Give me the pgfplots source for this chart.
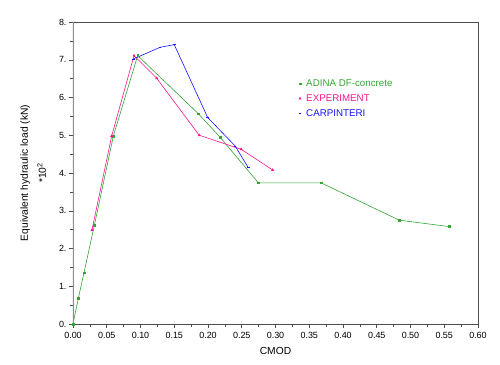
\documentclass[border=0pt]{standalone}
\usepackage{pgfplots}
\pgfplotsset{compat=1.18}
\usepackage{fontspec}
\setmainfont{Liberation Sans}
\definecolor{adgreen}{RGB}{50,165,50}
\definecolor{expink}{RGB}{255,20,140}
\definecolor{carblue}{RGB}{20,20,255}
\begin{document}
\begin{tikzpicture}
\useasboundingbox (-73bp,-41bp) rectangle (427bp,324bp);
\begin{axis}[
  scale only axis, width=405bp, height=302bp,
  at={(0,0)}, anchor=south west,
  xmin=0, xmax=0.6, ymin=0, ymax=8,
  xtick={0,0.05,0.1,0.15,0.2,0.25,0.3,0.35,0.4,0.45,0.5,0.55,0.6},
  xticklabels={0.00,0.05,0.10,0.15,0.20,0.25,0.30,0.35,0.40,0.45,0.50,0.55,0.60},
  ytick={0,1,2,3,4,5,6,7,8},
  yticklabels={0.,1.,2.,3.,4.,5.,6.,7.,8.},
  minor x tick num=1, minor y tick num=1,
  tick pos=left, tick align=outside,
  major tick length=4bp, minor tick length=2.5bp,
  tick style={black!70, line width=0.5pt},
  axis line style={black!70, line width=0.6pt},
  ticklabel style={font=\fontsize{9}{10}\selectfont},
  xticklabel style={yshift=-0.5bp},
  yticklabel style={xshift=1bp},
  xlabel={CMOD},
  xlabel style={font=\fontsize{10.3}{12}\selectfont, at={(axis description cs:0.5,-0.089)}, anchor=center},
  ylabel={Equivalent hydraulic load (kN)\\[6bp]*10\textsuperscript{2}},
  ylabel style={font=\fontsize{10.3}{12}\selectfont, align=center, at={(axis description cs:-0.098,0.5)}, anchor=center},
  legend cell align=left,
  legend style={draw=none, fill=none, at={(axis cs:0.3296,6.58)}, anchor=north west,
    font=\fontsize{9.8}{11}\selectfont, row sep=2.5bp,
    /tikz/every odd column/.append style={column sep=3bp}},
  legend image code/.code={\draw[#1, only marks] plot coordinates {(0cm,0cm)};},
]
\addplot[adgreen, line width=0.6pt, mark=square*, mark size=0.85pt] coordinates {
(0,0) (0.0079,0.68) (0.0163,1.36) (0.0316,2.61) (0.0598,4.98) (0.0958,7.11)
(0.1857,5.57) (0.2178,4.95) (0.2746,3.74) (0.3674,3.74) (0.4835,2.75) (0.5575,2.58)};
\addlegendentry{\textcolor{adgreen}{ADINA DF-concrete}}
\addplot[expink, line width=0.6pt, mark=triangle*, mark size=1.15pt] coordinates {
(0.0281,2.49) (0.0573,4.98) (0.0904,7.11) (0.124,6.51) (0.187,5.0) (0.249,4.63) (0.2958,4.08)};
\addlegendentry{\textcolor{expink}{EXPERIMENT}}
\addplot[carblue, line width=0.6pt, mark=-, mark size=1.3pt] coordinates {
(0.0894,7.02) (0.129,7.33) (0.150,7.40) (0.1995,5.47) (0.240,4.72) (0.2597,4.14)};
\addlegendentry{\textcolor{carblue}{CARPINTERI}}
\draw[black!45, line width=1.5pt] (rel axis cs:0,0) -- (rel axis cs:0,1);
\end{axis}
\end{tikzpicture}
\end{document}
